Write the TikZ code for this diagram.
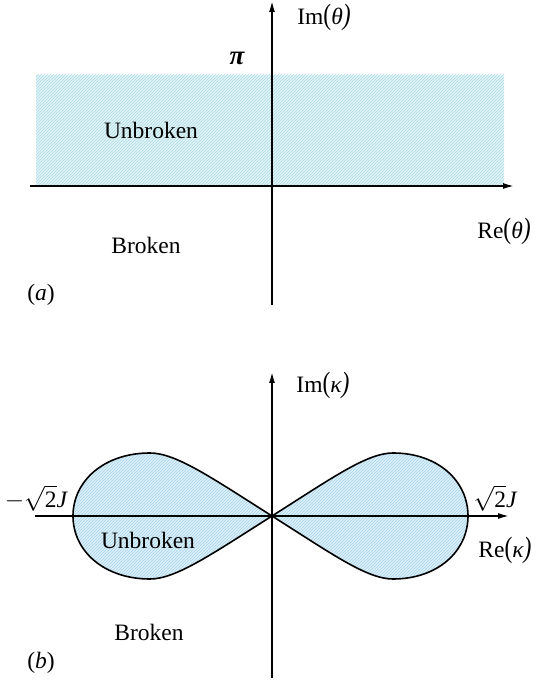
\documentclass[tikz,border=0pt]{standalone}
\usepackage{fontspec}
\setmainfont{Liberation Serif}
\usetikzlibrary{arrows.meta,patterns}
\definecolor{hatchA}{RGB}{172,220,228}
\definecolor{bgA}{RGB}{226,243,246}
\definecolor{hatchB}{RGB}{165,212,236}
\definecolor{bgB}{RGB}{222,240,248}
\begin{document}
\begin{tikzpicture}[x=1pt,y=1pt,
  axis/.style={line width=1.6pt,-{Latex[length=11pt,width=6pt]}},
  lbl/.style={font=\fontsize{23.5}{26}\selectfont,inner sep=0pt},
  shadeA/.style={preaction={fill=bgA},pattern=north east lines,pattern color=hatchA},
  shadeB/.style={preaction={fill=bgB},pattern=north east lines,pattern color=hatchB}]
\useasboundingbox (0,0) rectangle (538,686);
% ---------- panel (a) ----------
\path[shadeA] (36,500) rectangle (504,611);
\coordinate (ha0) at (30,500);
\coordinate (ha1) at (514,500);
\coordinate (va0) at (272,381);
\coordinate (va1) at (272,685);
\draw[axis] (ha0) -- (ha1);
\draw[axis] (va0) -- (va1);
\node[lbl,font=\fontsize{27}{30}\selectfont\bfseries\itshape] (pi) at (237,628) {π};
\node[lbl] (ima) at (324,669) {Im\scalebox{1}[1.25]{(}\itshape θ\scalebox{1}[1.25]{)}};
\node[lbl] (rea) at (504,455) {Re\scalebox{1}[1.25]{(}\itshape θ\scalebox{1}[1.25]{)}};
\node[lbl] (ua) at (151,556) {Unbroken};
\node[lbl] (ba) at (146,441) {Broken};
\node[lbl] (pa) at (41,391) {(\itshape a\upshape)};
% ---------- panel (b) ----------
\coordinate (o) at (272,170);
\path[shadeB,draw=black,line width=1.6pt]
  (o) .. controls +(60,38) and +(-26,0) .. (393,233)
      .. controls +(45,0) and +(0,35) .. (468,170)
      .. controls +(0,-35) and +(45,0) .. (393,107)
      .. controls +(-26,0) and +(60,-38) .. (o)
  (o) .. controls +(-60,38) and +(26,0) .. (150,233)
      .. controls +(-46,0) and +(0,35) .. (73,170)
      .. controls +(0,-35) and +(-46,0) .. (150,107)
      .. controls +(26,0) and +(-60,-38) .. (o);
\coordinate (hb0) at (35,170);
\coordinate (hb1) at (509,170);
\coordinate (vb0) at (272,8);
\coordinate (vb1) at (272,314);
\draw[axis] (hb0) -- (hb1);
\draw[axis] (vb0) -- (vb1);
\node[lbl] (imb) at (323,301) {Im\scalebox{1}[1.25]{(}\itshape κ\scalebox{1}[1.25]{)}};
\node[lbl] (reb) at (505,136) {Re\scalebox{1}[1.25]{(}\itshape κ\scalebox{1}[1.25]{)}};
\node[lbl] (mj) at (36,188) {$-\sqrt{\hbox{2}}$\itshape J};
\node[lbl] (pj) at (495,188) {$\sqrt{\hbox{2}}$\itshape J};
\node[lbl] (ub) at (148,146) {Unbroken};
\node[lbl] (bb) at (149,54) {Broken};
\node[lbl] (pb) at (41,23) {(\itshape b\upshape)};
\end{tikzpicture}
\end{document}
